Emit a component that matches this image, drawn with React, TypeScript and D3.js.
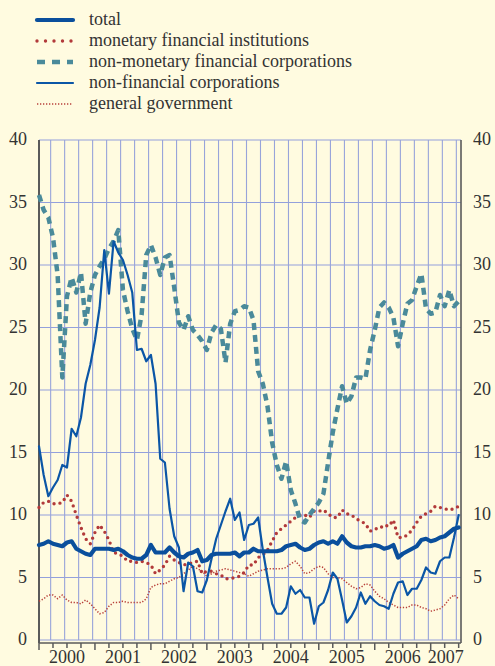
import React, { useEffect, useRef } from 'react';
import * as d3 from 'd3';

// monthly observations, Jan 2000 .. Jul 2007 (annual growth rates, %)
const years = ['2000', '2001', '2002', '2003', '2004', '2005', '2006', '2007'];
const yTicks = [0, 5, 10, 15, 20, 25, 30, 35, 40];

const total = [
  7.6, 7.7, 7.9, 7.7, 7.6, 7.5, 7.8, 7.9, 7.3, 7.1,
  6.9, 6.8, 7.3, 7.3, 7.3, 7.3, 7.2, 7.3, 7.1, 6.8,
  6.6, 6.5, 6.5, 6.8, 7.6, 7.0, 7.0, 7.0, 7.4, 7.0,
  6.7, 6.6, 6.9, 7.0, 7.2, 6.3, 6.4, 6.8, 6.9, 6.9,
  6.9, 6.9, 7.0, 6.7, 7.0, 7.0, 7.3, 7.1, 7.1, 7.1,
  7.1, 7.1, 7.2, 7.5, 7.6, 7.7, 7.4, 7.2, 7.3, 7.6,
  7.8, 7.9, 7.7, 7.9, 7.7, 8.3, 7.8, 7.5, 7.4, 7.4,
  7.5, 7.5, 7.6, 7.5, 7.3, 7.4, 7.6, 6.6, 6.9, 7.1,
  7.3, 7.5, 8.0, 8.1, 7.9, 8.0, 8.2, 8.3, 8.6, 8.9, 9.0,
];

const mfi = [
  10.6, 11.0, 11.1, 10.9, 10.9, 11.0, 11.6, 11.1, 10.0, 9.0,
  8.1, 7.7, 8.6, 9.2, 8.7, 8.0, 7.0, 6.9, 6.7, 6.3,
  6.3, 6.2, 6.3, 6.2, 6.0, 5.3, 5.6, 6.0, 6.7, 6.4,
  6.2, 6.0, 6.1, 6.2, 6.3, 5.3, 5.5, 5.5, 5.3, 5.2,
  4.9, 4.9, 5.0, 5.1, 5.4, 6.0, 6.0, 6.6, 6.8, 7.2,
  7.9, 8.6, 8.9, 9.2, 9.5, 9.8, 10.0, 10.0, 9.8, 10.3,
  10.3, 10.4, 10.1, 9.8, 9.8, 10.4, 10.1, 10.0, 9.7, 9.5,
  9.3, 8.7, 8.9, 8.9, 9.2, 9.1, 9.6, 8.2, 8.2, 8.4,
  8.8, 9.4, 9.9, 10.1, 10.3, 10.7, 10.6, 10.5, 10.4, 10.5, 10.7,
];

const nonMfi = [
  35.6, 34.4, 33.8, 32.2, 29.2, 21.0, 27.5, 29.0, 27.8, 29.4,
  25.3, 27.8, 29.2, 29.9, 30.5, 31.3, 31.9, 32.8, 28.0, 26.3,
  24.9, 24.0, 26.0, 30.8, 31.6, 30.6, 29.2, 30.6, 30.8, 28.2,
  25.4, 24.8, 25.9, 24.8, 24.4, 23.9, 23.2, 24.6, 25.2, 24.9,
  22.2, 25.3, 26.3, 26.4, 26.7, 26.6, 25.6, 21.5, 20.5, 18.7,
  15.8, 14.0, 12.9, 14.3, 12.0, 10.9, 9.6, 9.4, 10.0, 10.5,
  11.0, 11.7, 14.2, 16.6, 18.5, 20.3, 18.9, 19.5, 21.0, 21.0,
  20.9, 23.2, 24.8, 26.6, 27.0, 26.6, 25.8, 23.5, 25.3, 26.9,
  27.2, 28.3, 29.3, 26.5, 26.1, 26.2, 27.6, 26.7, 28.0, 26.7, 27.1,
];

const nonFin = [
  15.5, 13.2, 11.5, 12.2, 12.8, 14.0, 13.8, 16.9, 16.3, 17.8,
  20.5, 22.0, 24.0, 26.6, 31.2, 27.7, 31.9, 31.0, 30.4, 29.2,
  27.8, 23.2, 23.3, 22.3, 22.8, 20.5, 14.5, 14.2, 10.5, 8.3,
  7.4, 3.9, 6.2, 5.9, 3.9, 3.8, 4.8, 6.5, 8.1, 9.2,
  10.3, 11.3, 9.6, 10.2, 8.0, 9.2, 9.3, 9.8, 7.2, 5.0,
  2.9, 2.1, 2.1, 2.6, 4.3, 3.7, 4.0, 3.4, 3.4, 1.3,
  2.7, 3.0, 4.0, 5.4, 4.9, 3.2, 1.4, 1.9, 2.6, 3.8,
  2.9, 3.5, 3.1, 2.8, 2.7, 2.5, 3.7, 4.6, 4.7, 3.6,
  4.1, 4.1, 4.8, 5.8, 5.4, 5.3, 6.3, 6.6, 6.6, 8.2, 10.0,
];

const govt = [
  3.1, 3.3, 3.6, 3.6, 3.3, 3.6, 3.2, 3.0, 3.0, 2.9,
  3.2, 2.9, 2.5, 2.1, 2.2, 2.7, 3.0, 3.0, 3.1, 3.0,
  3.0, 3.0, 3.0, 3.3, 4.2, 4.4, 4.5, 4.5, 4.7, 4.9,
  5.0, 5.3, 5.6, 5.9, 5.7, 5.5, 5.1, 5.3, 5.5, 5.6,
  5.7, 5.6, 5.5, 5.4, 5.3, 5.1, 5.3, 5.5, 5.6, 5.7,
  5.7, 5.7, 5.7, 5.8, 6.1, 6.3, 5.9, 5.3, 5.4, 5.7,
  5.9, 5.8, 5.3, 5.0, 5.0, 4.9, 4.6, 4.3, 4.1, 4.2,
  4.5, 4.4, 3.9, 3.5, 3.3, 3.0, 2.8, 2.6, 2.6, 2.6,
  2.8, 2.8, 2.6, 2.5, 2.3, 2.4, 2.5, 2.8, 3.3, 3.6, 3.3,
];

const labels = [
  'total',
  'monetary financial institutions',
  'non-monetary financial corporations',
  'non-financial corporations',
  'general government',
];

const W = 495;
const H = 666;
const FONT = "'Liberation Serif', 'DejaVu Serif', 'Times New Roman', serif";

export default function App() {
  const svgRef = useRef<SVGSVGElement>(null);

  useEffect(() => {
    if (!svgRef.current) return;
    const svg = d3.select(svgRef.current);
    svg.selectAll('*').remove();

    svg.append('rect').attr('width', W).attr('height', H).attr('fill', '#fffbe0');

    const x = d3.scaleLinear().domain([0, 90.5]).range([39, 461]);
    const y = d3.scaleLinear().domain([0, 40]).range([640, 140]);

    const styles = [
      { data: total, color: '#0a4f9c', width: 4.2, dash: null as string | null, cap: 'round', legendDash: null as string | null },
      { data: mfi, color: '#b23a3a', width: 3.4, dash: '0,6', cap: 'round', legendDash: '0,8.5' },
      { data: nonMfi, color: '#4a8a9a', width: 4.5, dash: '7,5', cap: 'butt', legendDash: '8,7' },
      { data: nonFin, color: '#0b56a6', width: 2.2, dash: null, cap: 'round', legendDash: null },
      { data: govt, color: '#b8403a', width: 1.5, dash: '1.3,1.7', cap: 'butt', legendDash: '1.3,1.7' },
    ];

    // grid
    const grid = svg.append('g');
    yTicks.forEach(t => {
      grid.append('line')
        .attr('x1', x(0)).attr('x2', x(90.5))
        .attr('y1', y(t)).attr('y2', y(t))
        .attr('stroke', '#93a0dc').attr('stroke-width', 1.2);
    });
    for (let m = 2.5; m < 90.5; m += 3) {
      grid.append('line')
        .attr('x1', x(m)).attr('x2', x(m))
        .attr('y1', y(40)).attr('y2', y(0))
        .attr('stroke', '#98a4da').attr('stroke-width', 1.1);
    }

    // axes
    const axisColor = '#5a5a5a';
    svg.append('line').attr('x1', x(0)).attr('x2', x(0)).attr('y1', 140).attr('y2', 643)
      .attr('stroke', axisColor).attr('stroke-width', 2);
    svg.append('line').attr('x1', x(90.5)).attr('x2', x(90.5)).attr('y1', 140).attr('y2', 643)
      .attr('stroke', axisColor).attr('stroke-width', 1.6);
    svg.append('line').attr('x1', x(0)).attr('x2', x(90.5)).attr('y1', 643).attr('y2', 643)
      .attr('stroke', axisColor).attr('stroke-width', 1.5);
    for (let m = 0; m <= 90; m += 3) {
      svg.append('line').attr('x1', x(m)).attr('x2', x(m))
        .attr('y1', 643).attr('y2', m % 12 === 0 ? 650 : 648)
        .attr('stroke', axisColor).attr('stroke-width', 1.5);
    }

    const txt = (sel: any) => sel.style('font-family', FONT).style('font-size', '18px').attr('fill', '#333');

    yTicks.forEach(t => {
      txt(svg.append('text').attr('x', 27).attr('y', y(t) + 5).attr('text-anchor', 'end')).text(t);
      txt(svg.append('text').attr('x', 473).attr('y', y(t) + 5).attr('text-anchor', 'start')).text(t);
    });

    years.forEach((yr, i) => {
      const start = i * 12;
      const end = Math.min(start + 12, 90.5);
      txt(svg.append('text').attr('x', x((start + end) / 2)).attr('y', 663).attr('text-anchor', 'middle')).text(yr);
    });

    // series
    const line = d3.line<number>().x((d, i) => x(i)).y(d => y(d));
    const drawOrder = [4, 1, 2, 3, 0];
    drawOrder.forEach(k => {
      const s = styles[k];
      const p = svg.append('path').datum(s.data).attr('d', line)
        .attr('fill', 'none').attr('stroke', s.color).attr('stroke-width', s.width)
        .attr('stroke-linejoin', 'round').attr('stroke-linecap', s.cap);
      if (s.dash) p.attr('stroke-dasharray', s.dash);
    });

    // legend
    const lg = svg.append('g');
    styles.forEach((s, i) => {
      const cy = 20 + i * 21;
      const l = lg.append('line').attr('x1', 37).attr('x2', 73).attr('y1', cy).attr('y2', cy)
        .attr('stroke', s.color).attr('stroke-width', s.width).attr('stroke-linecap', s.cap);
      if (s.legendDash) l.attr('stroke-dasharray', s.legendDash);
      txt(lg.append('text').attr('x', 89).attr('y', cy + 5)).text(labels[i]);
    });
  }, []);

  return (
    <svg ref={svgRef} width={W} height={H} style={{ position: 'absolute', left: 0, top: 0 }} />
  );
}
